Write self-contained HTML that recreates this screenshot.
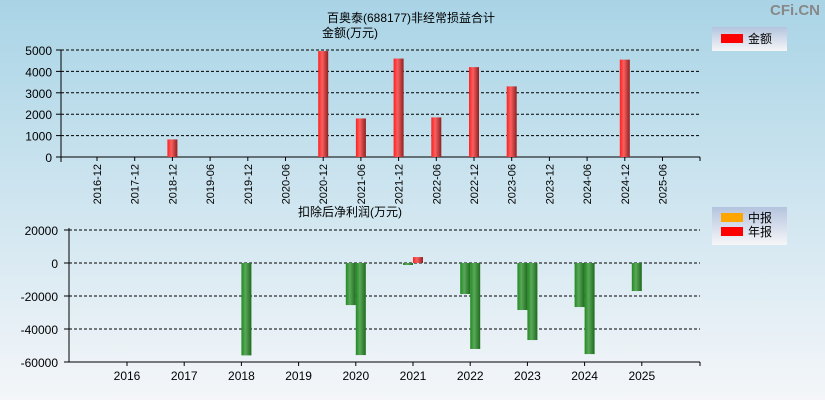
<!DOCTYPE html>
<html><head><meta charset="utf-8"><style>
body{margin:0;width:825px;height:400px;overflow:hidden}
svg{display:block;font-family:"Liberation Sans","Noto Sans CJK SC",sans-serif}
</style></head><body>
<svg id="c" width="825" height="400" xmlns="http://www.w3.org/2000/svg">
<defs>
<linearGradient id="bg" x1="0" y1="0" x2="0" y2="1"><stop offset="0" stop-color="#a9d4e6"/><stop offset="1" stop-color="#f4f6f9"/></linearGradient>
<linearGradient id="red" x1="0" y1="0" x2="1" y2="0"><stop offset="0" stop-color="#ff2020"/><stop offset="0.4" stop-color="#f86060"/><stop offset="1" stop-color="#902020"/></linearGradient>
<linearGradient id="grn" x1="0" y1="0" x2="1" y2="0"><stop offset="0" stop-color="#208a20"/><stop offset="0.4" stop-color="#5aa85a"/><stop offset="1" stop-color="#1e6a1e"/></linearGradient>
<linearGradient id="lg" x1="0" y1="0" x2="0" y2="1"><stop offset="0" stop-color="#b4c4de"/><stop offset="1" stop-color="#f6f6f8"/></linearGradient>
</defs>
<rect width="825" height="400" fill="url(#bg)"/>
<text x="795" y="15" font-size="15" font-weight="bold" fill="#888" text-anchor="middle">CFi.CN</text>
<text x="411" y="22" font-size="12" text-anchor="middle">百奥泰(688177)非经常损益合计</text>
<text x="350" y="37" font-size="12" text-anchor="middle">金额(万元)</text>
<text x="350" y="216" font-size="12" text-anchor="middle">扣除后净利润(万元)</text>
<g>
<rect x="712" y="27" width="75" height="24" fill="url(#lg)"/>
<rect x="721" y="34" width="22" height="9" fill="#ff0000"/>
<text x="748" y="43" font-size="12">金额</text></g>
<g>
<rect x="712" y="207" width="75" height="38" fill="url(#lg)"/>
<rect x="721" y="213" width="22" height="9" fill="#ffa500"/>
<text x="748" y="222" font-size="12">中报</text>
<rect x="721" y="227" width="22" height="9" fill="#ff0000"/>
<text x="748" y="236" font-size="12">年报</text></g>
<g id="top"></g><g id="bot"></g>
</svg>
<script>
const topCats=["2016-12","2017-12","2018-12","2019-06","2019-12","2020-06","2020-12","2021-06","2021-12","2022-06","2022-12","2023-06","2023-12","2024-06","2024-12","2025-06"];
const topVals=[0,0,820,0,0,0,4950,1800,4600,1850,4200,3300,0,0,4550,0];
const topTicks=[0,1000,2000,3000,4000,5000];
const years=["2016","2017","2018","2019","2020","2021","2022","2023","2024","2025"];
const interim=[null,null,null,null,-25500,-1200,-18800,-28500,-26700,-17000];
const annual=[null,null,-56000,null,-55800,3600,-52100,-46700,-55200,null];
const botTicks=[20000,0,-20000,-40000,-60000];
const NS="http://www.w3.org/2000/svg";
function mk(p,t,a){const e=document.createElementNS(NS,t);for(const k in a)e.setAttribute(k,a[k]);p.appendChild(e);return e;}
// top chart
const T=document.getElementById('top');
const ty=v=>157-v*(107/5000), tx=i=>97+i*37.7;
topTicks.forEach(v=>{
 if(v>0){const l=mk(T,'line',{x1:61,x2:700,y1:ty(v),y2:ty(v),stroke:'#000','stroke-dasharray':'3,2'});
 }
 mk(T,'line',{x1:56,x2:61,y1:ty(v),y2:ty(v),stroke:'#000'});
 const t=mk(T,'text',{x:52,y:ty(v)+5,'font-size':12,'text-anchor':'end'});t.textContent=v;
 
});
mk(T,'line',{x1:61,x2:61,y1:50,y2:162,stroke:'#000'});
mk(T,'line',{x1:61,x2:700,y1:157,y2:157,stroke:'#000'});
mk(T,'line',{x1:700,x2:700,y1:157,y2:161,stroke:'#000'});
topCats.forEach((c,i)=>{
 mk(T,'line',{x1:tx(i),x2:tx(i),y1:157,y2:161,stroke:'#000'});
 const t=mk(T,'text',{x:0,y:0,'font-size':11,'text-anchor':'end',transform:`translate(${tx(i)+4},164) rotate(-90)`});t.textContent=c;
 
 if(topVals[i]>0){const r=mk(T,'rect',{x:tx(i)-5,y:ty(topVals[i]),width:10,height:157-ty(topVals[i]),fill:'url(#red)'});
 }
});
// bottom chart
const B=document.getElementById('bot');
const by=v=>263-v*(33/20000), bx=i=>127+i*57.2;
botTicks.forEach(v=>{
 if(v>-60000){const l=mk(B,'line',{x1:69,x2:700,y1:by(v),y2:by(v),stroke:'#000','stroke-dasharray':'3,2'});
 }
 mk(B,'line',{x1:64,x2:69,y1:by(v),y2:by(v),stroke:'#000'});
 const t=mk(B,'text',{x:58,y:by(v)+5,'font-size':12,'text-anchor':'end'});t.textContent=v;
 
});
mk(B,'line',{x1:69,x2:69,y1:228,y2:362,stroke:'#000'});
mk(B,'line',{x1:69,x2:700,y1:362,y2:362,stroke:'#000'});
mk(B,'line',{x1:700,x2:700,y1:362,y2:366,stroke:'#000'});
function bar(x,v,name){
 const y0=by(0),y1=by(v);
 const r=mk(B,'rect',{x:x,y:Math.min(y0,y1),width:10,height:Math.max(1,Math.abs(y1-y0)),fill:v>=0?'url(#red)':'url(#grn)'});
 
}
years.forEach((y,i)=>{
 mk(B,'line',{x1:bx(i),x2:bx(i),y1:362,y2:366,stroke:'#000'});
 const t=mk(B,'text',{x:bx(i),y:380,'font-size':12,'text-anchor':'middle'});t.textContent=y;
 
 if(interim[i]!==null)bar(bx(i)-10,interim[i],'interim-bar');
 if(annual[i]!==null)bar(bx(i),annual[i],'annual-bar');
});
</script>
</body></html>
